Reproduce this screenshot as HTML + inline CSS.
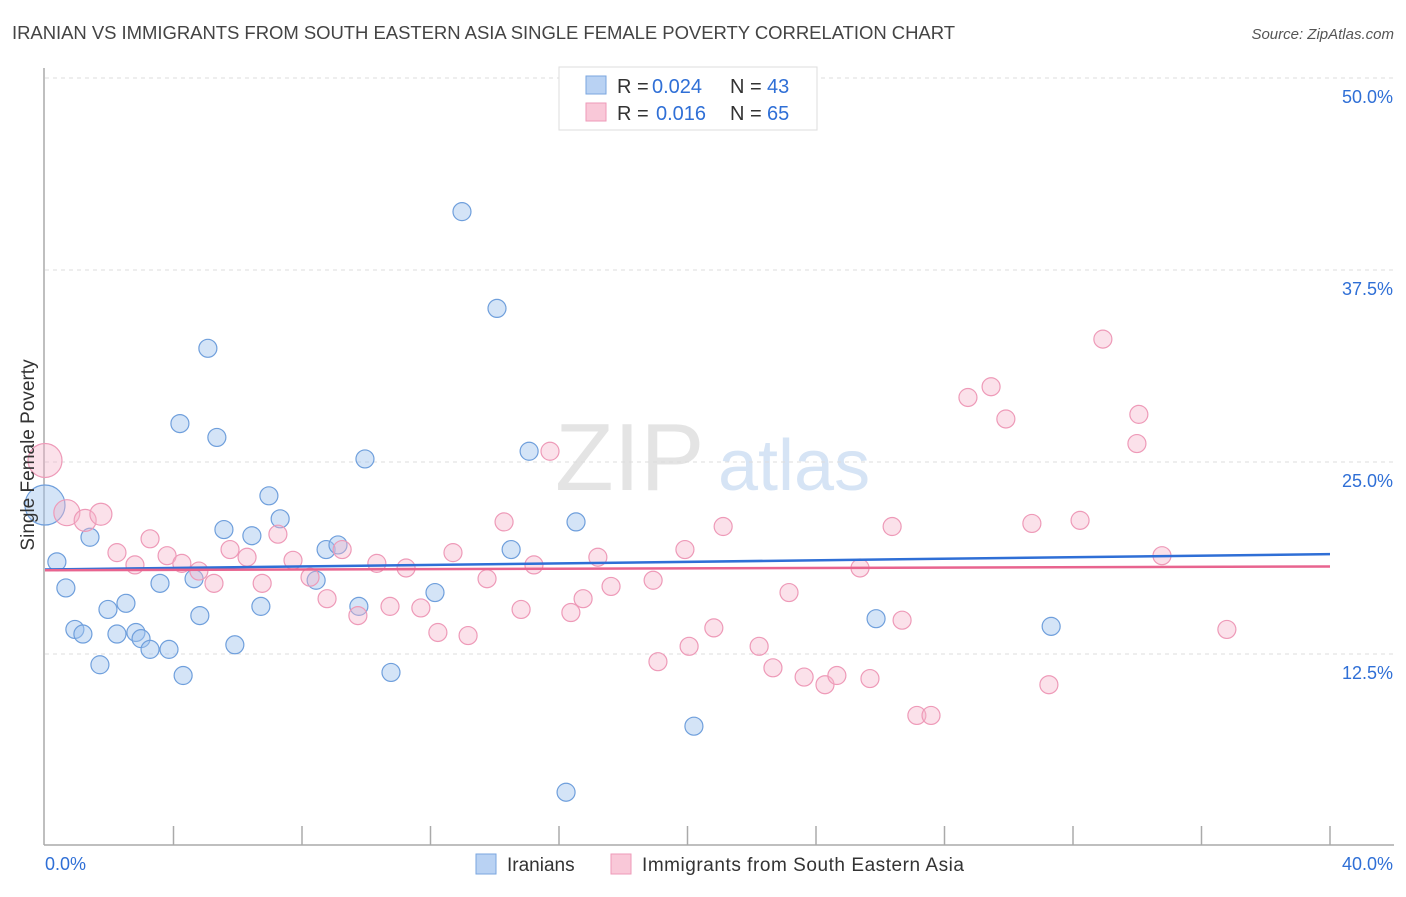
<!DOCTYPE html>
<html><head><meta charset="utf-8"><style>
body{margin:0;background:#fff;font-family:"Liberation Sans",sans-serif}
svg text{font-family:"Liberation Sans",sans-serif}
</style></head><body>
<svg id="chart" width="1406" height="892" viewBox="0 0 1406 892">
<text x="12" y="39" font-size="18.5" fill="#444" textLength="943">IRANIAN VS IMMIGRANTS FROM SOUTH EASTERN ASIA SINGLE FEMALE POVERTY CORRELATION CHART</text>
<text x="1394" y="39" font-size="15" fill="#555" text-anchor="end" font-style="italic">Source: ZipAtlas.com</text>
<g><text x="555" y="490" font-size="96" fill="#e4e4e4" font-family="Liberation Serif">ZIP</text><text x="718" y="490" font-size="72" fill="#d6e4f5">atlas</text></g>
<g id="grid"></g>
<g id="axes"></g>
<g id="pts"></g>
<g id="trends"></g>
<text transform="translate(34,455) rotate(-90)" font-size="19" fill="#333" text-anchor="middle">Single Female Poverty</text>
<g>
<rect x="559" y="67" width="258" height="63" fill="#fff" stroke="#ddd"/>
<rect x="586" y="76" width="20" height="18" fill="#b9d2f3" stroke="#7aa6df"/>
<rect x="586" y="103" width="20" height="18" fill="#f9c8d8" stroke="#ee9ab8"/>
<text x="617" y="93" font-size="20" fill="#333">R =</text>
<text x="652" y="93" font-size="20" fill="#2f6fd6">0.024</text>
<text x="730" y="93" font-size="20" fill="#333">N =</text>
<text x="767" y="93" font-size="20" fill="#2f6fd6">43</text>
<text x="617" y="120" font-size="20" fill="#333">R =</text>
<text x="656" y="120" font-size="20" fill="#2f6fd6">0.016</text>
<text x="730" y="120" font-size="20" fill="#333">N =</text>
<text x="767" y="120" font-size="20" fill="#2f6fd6">65</text>
</g>
<g>
<rect x="476" y="854" width="20" height="20" fill="#b9d2f3" stroke="#7aa6df"/>
<text x="507" y="871" font-size="19" fill="#333">Iranians</text>
<rect x="611" y="854" width="20" height="20" fill="#f9c8d8" stroke="#ee9ab8"/>
<text x="642" y="871" font-size="19" fill="#333" textLength="322">Immigrants from South Eastern Asia</text>
</g>
</svg>
<script>
const yTicks=[12.5,25,37.5,50];
const yTickLabels=["12.5%","25.0%","37.5%","50.0%"];
const xTicks=[0,4,8,12,16,20,24,28,32,36,40];
const blueX=[0,0.37,0.65,0.93,1.18,1.40,1.71,1.96,2.24,2.52,2.83,2.99,3.27,3.58,3.86,4.20,4.30,4.64,4.82,5.07,5.35,5.57,5.91,6.44,6.72,6.97,7.32,8.44,8.75,9.12,9.77,9.96,10.77,12.14,12.98,14.07,14.51,15.07,16.22,16.53,20.20,25.87,31.32];
const blueY=[22.2,18.5,16.8,14.1,13.8,20.1,11.8,15.4,13.8,15.8,13.9,13.5,12.8,17.1,12.8,27.5,11.1,17.4,15.0,32.4,26.6,20.6,13.1,20.2,15.6,22.8,21.3,17.3,19.3,19.6,15.6,25.2,11.3,16.5,41.3,35.0,19.3,25.7,3.5,21.1,7.8,14.8,14.3];
const blueR=[20];
const pinkX=[0,0.68,1.25,1.74,2.24,2.80,3.27,3.80,4.26,4.79,5.26,5.76,6.29,6.76,7.25,7.72,8.25,8.78,9.25,9.74,10.33,10.74,11.24,11.70,12.23,12.70,13.17,13.76,14.29,14.82,15.22,15.72,16.37,16.75,17.21,17.62,18.93,19.08,19.92,20.05,20.82,21.11,22.23,22.66,23.16,23.63,24.28,24.65,25.37,25.68,26.37,26.68,27.14,27.58,28.73,29.45,29.91,30.72,31.25,32.22,32.93,33.99,34.05,34.77,36.79];
const pinkY=[25.1,21.7,21.2,21.6,19.1,18.3,20.0,18.9,18.4,17.9,17.1,19.3,18.8,17.1,20.3,18.6,17.5,16.1,19.3,15.0,18.4,15.6,18.1,15.5,13.9,19.1,13.7,17.4,21.1,15.4,18.3,25.7,15.2,16.1,18.8,16.9,17.3,12.0,19.3,13.0,14.2,20.8,13.0,11.6,16.5,11.0,10.5,11.1,18.1,10.9,20.8,14.7,8.5,8.5,29.2,29.9,27.8,21.0,10.5,21.2,33.0,26.2,28.1,18.9,14.1];
const pinkR=[17,13,11,11];
const blueTrend=[18.0,19.0];
const pinkTrend=[17.95,18.2];
const NS="http://www.w3.org/2000/svg";
const X0=45,X1=1330,Y0=846,PXY=15.36;
function sx(v){return X0+(X1-X0)*v/40;}
function sy(v){return Y0-v*PXY;}
function mk(tag,attrs,parent){const e=document.createElementNS(NS,tag);for(const k in attrs)e.setAttribute(k,attrs[k]);document.getElementById(parent).appendChild(e);return e;}
yTicks.forEach((t,i)=>{
  const l=mk('line',{x1:X0,x2:1394,y1:sy(t),y2:sy(t),stroke:'#ddd','stroke-dasharray':'4,4'},'grid');
  
  
  const tx=mk('text',{x:1393,y:sy(t)+25,'font-size':18,fill:'#2f6fd6','text-anchor':'end'},'grid');
  tx.textContent=yTickLabels[i];
  
  
});
const ax=mk('line',{x1:44,x2:44,y1:68,y2:845,stroke:'#aaa','stroke-width':1.5},'axes');


const bx=mk('line',{x1:44,x2:1394,y1:845,y2:845,stroke:'#aaa','stroke-width':1.5},'axes');


xTicks.forEach(t=>{
  if(t===0)return;
  const l=mk('line',{x1:sx(t),x2:sx(t),y1:826,y2:845,stroke:'#aaa','stroke-width':1.5},'axes');
  
  
});
const xl0=mk('text',{x:45,y:870,'font-size':18,fill:'#2f6fd6'},'axes');xl0.textContent='0.0%';


const xl1=mk('text',{x:1393,y:870,'font-size':18,fill:'#2f6fd6','text-anchor':'end'},'axes');xl1.textContent='40.0%';


blueX.forEach((v,i)=>{
  const c=mk('circle',{cx:sx(v),cy:sy(blueY[i]),r:blueR[i]||9,fill:'rgba(160,195,238,0.45)',stroke:'#6f9fdc','stroke-width':1.2},'pts');
  
  
});
pinkX.forEach((v,i)=>{
  const c=mk('circle',{cx:sx(v),cy:sy(pinkY[i]),r:pinkR[i]||9,fill:'rgba(246,180,202,0.4)',stroke:'#ee9ab8','stroke-width':1.2},'pts');
  
  
});
const tb=mk('line',{x1:sx(0),x2:sx(40),y1:sy(blueTrend[0]),y2:sy(blueTrend[1]),stroke:'#2f6fd6','stroke-width':2.5},'trends');


const tp=mk('line',{x1:sx(0),x2:sx(40),y1:sy(pinkTrend[0]),y2:sy(pinkTrend[1]),stroke:'#e8648f','stroke-width':2.5},'trends');


</script>
</body></html>
